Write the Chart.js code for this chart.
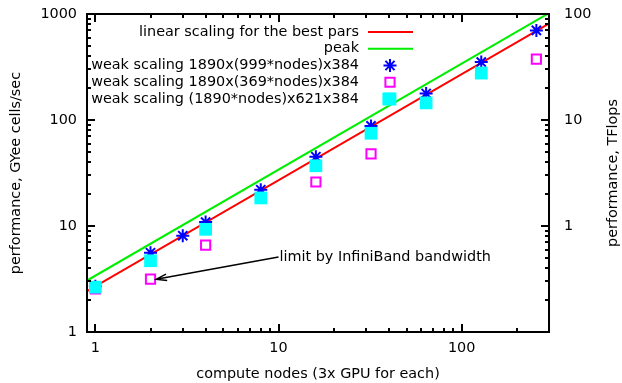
<!DOCTYPE html>
<html>
<head>
<meta charset="utf-8">
<script src="https://cdn.jsdelivr.net/npm/chart.js@4/dist/chart.umd.min.js"></script>
<style>
  html, body { margin: 0; padding: 0; background: #fff; }
  #wrap { width: 622px; height: 383px; }
</style>
</head>
<body>
<div id="wrap"><canvas id="myChart"></canvas></div>
<script>
// measured values (GYee cells/sec) vs number of nodes
const nodes999 = [1, 2, 3, 4, 8, 16, 32, 64, 128, 256];
const perf999 = [2.7, 5.6, 8.1, 10.9, 22, 45, 88, 178, 352, 700];

const nodes369 = [1, 2, 4, 16, 32, 256];
const perf369 = [2.55, 3.15, 6.6, 26, 48, 376];

const nodes621 = [1, 2, 4, 8, 16, 32, 40, 64, 128];
const perf621 = [2.65, 4.7, 9.3, 18.4, 37, 75, 158, 145, 277];

// straight reference lines, just the two end points
const lineNodes = [0.9, 300];
const linearPerf = [2.43, 810];
const peakPerf = [3.06, 1020];

const labels = [
    "linear scaling for the best pars",
    "peak",
    "weak scaling 1890x(999*nodes)x384",
    "weak scaling 1890x(369*nodes)x384",
    "weak scaling (1890*nodes)x621x384"
];

const noteText = "limit by InfiniBand bandwidth";
const noteFrom = {x: 10, y: 5.1};
const noteTo = {x: 2.15, y: 3.15};

const FONT = "DejaVu Sans";
const FSIZE = 14.4;
Chart.defaults.font.family = FONT;
Chart.defaults.font.size = FSIZE;
Chart.defaults.color = "#000";

function pts(xs, ys) {
    return xs.map((x, i) => ({x: x, y: ys[i]}));
}

function isDecade(v) {
    const l = Math.log10(v);
    return Math.abs(l - Math.round(l)) < 1e-6;
}

// gnuplot style frame, inward ticks, legend, arrow and right label
const gnuplotLook = {
    id: 'gnuplotLook',
    afterDatasetsDraw(chart) {
        const ctx = chart.ctx;
        const a = chart.chartArea;
        const xs = chart.scales.x, ys = chart.scales.y;
        ctx.save();
        ctx.strokeStyle = "#000";
        ctx.lineWidth = 2;
        ctx.lineCap = "butt";

        // y ticks (both sides)
        for (let e = 0; e <= 2; e++) {
            for (let m = 1; m <= 10; m++) {
                const v = m * Math.pow(10, e);
                const py = Math.round(ys.getPixelForValue(v));
                const len = (m === 1 || m === 10) ? 8 : 4;
                ctx.beginPath();
                ctx.moveTo(a.left, py); ctx.lineTo(a.left + len, py);
                ctx.moveTo(a.right, py); ctx.lineTo(a.right - len, py);
                ctx.stroke();
            }
        }
        // x ticks (bottom and top)
        for (let e = 0; e <= 2; e++) {
            for (let m = 1; m <= 9; m++) {
                const v = m * Math.pow(10, e);
                if (v < xs.min || v > xs.max) continue;
                const px = Math.round(xs.getPixelForValue(v));
                const len = m === 1 ? 8 : 4;
                ctx.beginPath();
                ctx.moveTo(px, a.bottom); ctx.lineTo(px, a.bottom - len);
                ctx.moveTo(px, a.top); ctx.lineTo(px, a.top + len);
                ctx.stroke();
            }
        }
        ctx.strokeRect(a.left, a.top, a.right - a.left, a.bottom - a.top);

        // legend inside top right
        ctx.font = FSIZE + "px '" + FONT + "'";
        ctx.fillStyle = "#000";
        ctx.textAlign = "right";
        ctx.textBaseline = "middle";
        const tx = a.right - 190;
        const s0 = a.right - 181, s1 = a.right - 136, sm = a.right - 159;
        chart.data.datasets.forEach((ds, i) => {
            const y = a.top + 18 + i * 16.75;
            ctx.fillStyle = "#000";
            ctx.fillText(labels[i], tx, y);
            if (ds.showLine) {
                ctx.strokeStyle = ds.borderColor;
                ctx.lineWidth = ds.borderWidth;
                ctx.beginPath();
                ctx.moveTo(s0, y); ctx.lineTo(s1, y);
                ctx.stroke();
            } else {
                ctx.strokeStyle = ds.borderColor;
                ctx.fillStyle = ds.backgroundColor;
                ctx.lineWidth = ds.borderWidth;
                Chart.helpers.drawPoint(ctx, {
                    pointStyle: ds.pointStyle,
                    radius: ds.pointRadius,
                    rotation: 0,
                    borderWidth: ds.borderWidth
                }, sm, y);
            }
        });

        // annotation arrow
        const fx = xs.getPixelForValue(noteFrom.x), fy = ys.getPixelForValue(noteFrom.y);
        const ex = xs.getPixelForValue(noteTo.x), ey = ys.getPixelForValue(noteTo.y);
        ctx.strokeStyle = "#000";
        ctx.lineWidth = 1.5;
        ctx.beginPath();
        ctx.moveTo(fx, fy); ctx.lineTo(ex, ey);
        const ang = Math.atan2(fy - ey, fx - ex);
        const hl = 11, hw = 0.3;
        ctx.moveTo(ex + hl * Math.cos(ang + hw), ey + hl * Math.sin(ang + hw));
        ctx.lineTo(ex, ey);
        ctx.lineTo(ex + hl * Math.cos(ang - hw), ey + hl * Math.sin(ang - hw));
        ctx.stroke();
        ctx.fillStyle = "#000";
        ctx.textAlign = "left";
        ctx.fillText(noteText, fx + 1, fy);

        // right axis title
        ctx.translate(613, (a.top + a.bottom) / 2);
        ctx.rotate(-Math.PI / 2);
        ctx.textAlign = "center";
        ctx.fillText("performance, TFlops", 0, 0);
        ctx.restore();
    }
};

function fixWidth(w) {
    return (s) => { s.width = w; s.paddingTop = 0; s.paddingBottom = 0; };
}

const ctx = document.getElementById('myChart');

let myChart = new Chart(ctx, {
    type: 'scatter',
    data: {
        datasets: [
            {
                label: labels[0],
                data: pts(lineNodes, linearPerf),
                showLine: true,
                borderColor: "#ff0000",
                backgroundColor: "#ff0000",
                borderWidth: 2,
                pointRadius: 0,
                order: 5
            },
            {
                label: labels[1],
                data: pts(lineNodes, peakPerf),
                showLine: true,
                borderColor: "#00ee00",
                backgroundColor: "#00ee00",
                borderWidth: 2,
                pointRadius: 0,
                order: 4
            },
            {
                label: labels[2],
                data: pts(nodes999, perf999),
                pointStyle: 'star',
                pointRadius: 6.5,
                borderColor: "#0000ff",
                backgroundColor: "#0000ff",
                borderWidth: 2,
                order: 3
            },
            {
                label: labels[3],
                data: pts(nodes369, perf369),
                pointStyle: 'rect',
                pointRadius: 6.5,
                borderColor: "#ff00ff",
                backgroundColor: "rgba(0,0,0,0)",
                borderWidth: 2,
                order: 2
            },
            {
                label: labels[4],
                data: pts(nodes621, perf621),
                pointStyle: 'rect',
                pointRadius: 9,
                borderColor: "#00ffff",
                backgroundColor: "#00ffff",
                borderWidth: 0,
                order: 1
            }
        ]
    },
    options: {
        responsive: true,
        maintainAspectRatio: false,
        animation: false,
        events: [],
        layout: { padding: { top: 14, left: 0, right: 0, bottom: 0 } },
        plugins: {
            legend: { display: false },
            tooltip: { enabled: false }
        },
        scales: {
            x: {
                type: 'logarithmic',
                position: 'bottom',
                min: 0.9,
                max: 300,
                grid: { display: false, drawTicks: false },
                border: { display: false },
                ticks: {
                    autoSkip: false,
                    maxRotation: 0,
                    padding: 8,
                    callback: (v) => isDecade(v) ? String(Math.round(v)) : ''
                },
                title: {
                    display: true,
                    text: "compute nodes (3x GPU for each)",
                    padding: { top: 0, bottom: 0 }
                },
                afterFit: (s) => { s.height = 51; s.paddingLeft = 0; s.paddingRight = 0; }
            },
            y: {
                type: 'logarithmic',
                position: 'left',
                min: 1,
                max: 1000,
                grid: { display: false, drawTicks: false },
                border: { display: false },
                ticks: {
                    autoSkip: false,
                    padding: 10,
                    callback: (v) => isDecade(v) ? String(Math.round(v)) : ''
                },
                title: {
                    display: true,
                    text: "performance, GYee cells/sec",
                    padding: { top: 8, bottom: 0 }
                },
                afterFit: fixWidth(87)
            },
            y2: {
                type: 'logarithmic',
                position: 'right',
                display: true,
                min: 0.1,
                max: 100,
                grid: { display: false, drawTicks: false },
                border: { display: false },
                ticks: {
                    autoSkip: false,
                    padding: 15,
                    callback: (v) => (isDecade(v) && v >= 1) ? String(Math.round(v)) : ''
                },
                afterFit: fixWidth(73)
            }
        }
    },
    plugins: [gnuplotLook]
});
</script>
</body>
</html>
